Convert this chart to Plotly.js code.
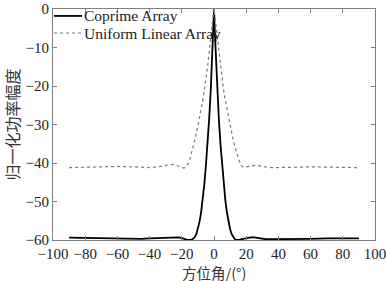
<!DOCTYPE html>
<html>
<head>
<meta charset="utf-8">
<script src="https://cdn.plot.ly/plotly-3.0.1.min.js"></script>
<style>html,body{margin:0;padding:0;background:#fff;}#chart{width:386px;height:281px;}</style>
</head>
<body>
<div id="chart"></div>
<script>
// Azimuth angles (degrees)
const angles = [-90,-80,-70,-60,-50,-45,-40,-35,-30,-27,-25,-22,-20,-19,-18,-17,-16,-15,-14,-13,-12,-11,-10,-9,-8,-7,-6,-5,-4,-3,-2,-1.5,-1,-0.5,0,0.5,1,1.5,2,3,4,5,6,7,8,9,10,11,12,13,14,15,16,17,18,20,22,23,25,26,28,30,32,36,40,50,60,70,80,90];
// Coprime array normalized power (dB)
const coprime = [-59.4,-59.5,-59.6,-59.7,-59.7,-59.7,-59.6,-59.5,-59.4,-59.3,-59.2,-59.3,-59.5,-59.7,-59.8,-59.9,-60,-60,-59.9,-59.7,-59.3,-58.5,-57.2,-55.3,-52.8,-49.5,-45.5,-40.5,-35,-28.5,-21,-16.5,-11.5,-6,0,-6,-11.5,-16.5,-21,-28.5,-35,-40.5,-45.5,-49.5,-52.8,-55.3,-57.2,-58.5,-59.3,-59.8,-60,-60,-59.9,-59.8,-59.7,-59.5,-59.35,-59.3,-59.3,-59.4,-59.55,-59.7,-59.8,-59.8,-59.8,-59.8,-59.7,-59.6,-59.6,-59.6];
// Uniform linear array normalized power (dB)
const ula = [-41.2,-41.1,-41,-40.9,-41,-41.1,-41.2,-41,-40.6,-40.4,-40.4,-40.7,-41.1,-41.3,-41.2,-40.8,-40.1,-39,-37.6,-36,-34.2,-32.4,-30.5,-28.3,-26,-23.7,-21.2,-18.2,-15,-11.2,-7.2,-5.4,-3.6,-1.8,0,-1.8,-3.6,-5.4,-7.2,-11.2,-15,-18.2,-21.2,-23.7,-26,-28.3,-30.5,-32.4,-34.2,-35.8,-37.3,-38.6,-39.8,-40.6,-41.1,-41,-40.8,-40.7,-40.6,-40.6,-40.7,-40.9,-41,-41.2,-41.2,-41.1,-41,-41.1,-41.2,-41.2];
// Legend labels and axis title
const seriesNames = ['Coprime Array', 'Uniform Linear Array'];
const xTitle = '方位角/(°)';
const yTitle = '归一化功率幅度';

const serif = 'Liberation Serif';
const cjk = 'Noto Sans CJK SC';
const lineStyles = [
  {color: '#000', width: 1.8},
  {color: '#777', width: 1.2, dash: 'dot'}
];

const traces = [
  {x: angles, y: coprime, name: seriesNames[0], mode: 'lines', line: lineStyles[0]},
  {x: angles, y: ula, name: seriesNames[1], mode: 'lines', line: lineStyles[1]}
];

function axisCommon() {
  return {
    showgrid: false, zeroline: false, showline: true, linecolor: '#808080', linewidth: 1,
    mirror: 'ticks', ticks: 'inside', ticklen: 4, tickcolor: '#808080',
    ticklabeloverflow: 'allow',
    tickfont: {family: serif, size: 15, color: '#222'}
  };
}

// legend drawn as shapes + annotations for compact spacing
const legY = [0.970, 0.896];
const shapes = legY.map((y, i) => ({
  type: 'line', xref: 'paper', yref: 'paper', x0: 0.003, x1: 0.09, y0: y, y1: y,
  line: {color: lineStyles[i].color, width: i === 0 ? 1.8 : 1.2, dash: lineStyles[i].dash || 'solid'}
}));
const annotations = legY.map((y, i) => ({
  text: seriesNames[i], xref: 'paper', yref: 'paper', x: 0.093, y: y, xanchor: 'left', yanchor: 'middle',
  showarrow: false, font: {family: serif, size: 15.5, color: '#222'}, borderpad: 0
}));
// x-axis title as an annotation so it can sit clear of the tick labels
annotations.push({
  text: xTitle, xref: 'paper', yref: 'paper', x: 0.5, y: -0.14, xanchor: 'center', yanchor: 'middle',
  showarrow: false, font: {family: cjk, size: 14.5, color: '#333'}, borderpad: 0
});

const layout = {
  width: 386, height: 281,
  margin: {l: 53, r: 11, t: 9, b: 41},
  paper_bgcolor: '#fff', plot_bgcolor: '#fff',
  showlegend: false,
  shapes: shapes,
  annotations: annotations,
  xaxis: Object.assign(axisCommon(), {range: [-100, 100], dtick: 20, tick0: 0}),
  yaxis: Object.assign(axisCommon(), {range: [-60, 0], dtick: 10, tick0: 0,
    title: {text: yTitle, font: {family: cjk, size: 16, color: '#333'}, standoff: 3}})
};

Plotly.newPlot('chart', traces, layout, {staticPlot: true, displayModeBar: false});
</script>
</body>
</html>
